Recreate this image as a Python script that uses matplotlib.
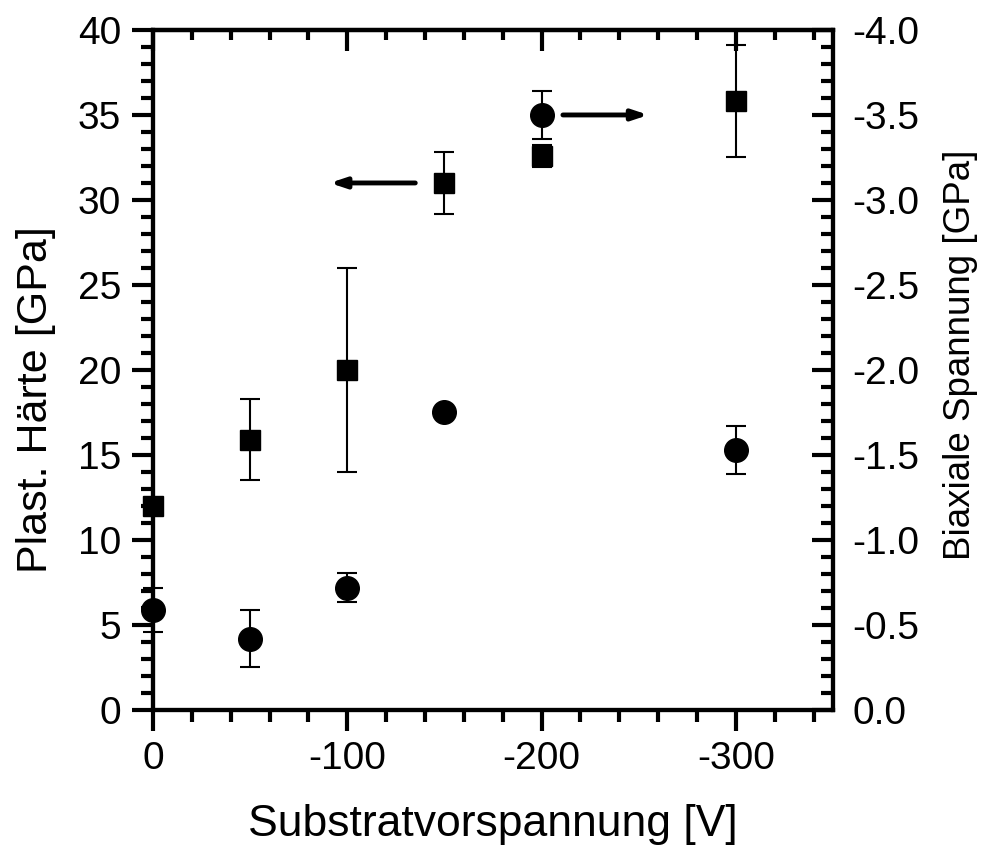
import matplotlib
matplotlib.use('Agg')
import matplotlib.pyplot as plt
from matplotlib.ticker import MultipleLocator, FormatStrFormatter

plt.rcParams['font.family'] = ['Liberation Sans', 'DejaVu Sans']
plt.rcParams['axes.unicode_minus'] = False

# Substratvorspannung [V]
bias_h = [0, -50, -100, -150, -200, -300]
haerte = [12.0, 15.9, 20.0, 31.0, 32.6, 35.8]
haerte_err = [0.0, 2.4, 6.0, 1.8, 0.65, 3.3]

bias_s = [0, -50, -100, -150, -200, -300]
spannung = [-0.59, -0.42, -0.72, -1.75, -3.50, -1.53]
spannung_err = [0.13, 0.17, 0.085, 0.0, 0.14, 0.14]

fig = plt.figure(figsize=(9.84, 8.56), dpi=100)
ax = fig.add_axes([0.1555, 0.1706, 0.691, 0.7944])
ax2 = ax.twinx()

ax.errorbar(bias_h, haerte, yerr=haerte_err, fmt='s', color='black', ms=15,
            ecolor='black', elinewidth=1.5, capsize=7.5, capthick=1.5, clip_on=False, zorder=5)
ax2.errorbar(bias_s, spannung, yerr=spannung_err, fmt='o', color='black', ms=17,
             ecolor='black', elinewidth=1.5, capsize=7.5, capthick=1.5, clip_on=False, zorder=5)

ax.set_xlim(0, -350)
ax.set_ylim(0, 40)
ax2.set_ylim(0, -4)

ax.xaxis.set_major_locator(MultipleLocator(100))
ax.xaxis.set_minor_locator(MultipleLocator(20))
ax.yaxis.set_major_locator(MultipleLocator(5))
ax.yaxis.set_minor_locator(MultipleLocator(1))
ax2.yaxis.set_major_locator(MultipleLocator(0.5))
ax2.yaxis.set_minor_locator(MultipleLocator(0.1))
ax2.yaxis.set_major_formatter(FormatStrFormatter('%.1f'))

for a in (ax, ax2):
    for s in a.spines.values():
        s.set_linewidth(3)

ax.tick_params(axis='x', which='both', direction='out', bottom=True, top=False, labelsize=28, width=3, pad=7)
ax.tick_params(axis='x', which='major', length=15)
ax.tick_params(axis='x', which='minor', length=8.5)
ax.tick_params(axis='y', which='both', direction='out', left=True, right=False, labelsize=28, width=3, pad=8)
ax.tick_params(axis='y', which='major', length=15)
ax.tick_params(axis='y', which='minor', length=8.5)
ax2.tick_params(axis='y', which='both', direction='in', right=True, labelsize=28, width=3, pad=14)
ax2.tick_params(axis='y', which='major', length=15)
ax2.tick_params(axis='y', which='minor', length=8.5)

# inward ticks along the top spine
axt = ax.secondary_xaxis('top')
axt.xaxis.set_major_locator(MultipleLocator(100))
axt.xaxis.set_minor_locator(MultipleLocator(20))
axt.tick_params(axis='x', which='both', direction='in', width=3, labeltop=False)
axt.tick_params(axis='x', which='major', length=15)
axt.tick_params(axis='x', which='minor', length=7.5)
axt.spines['top'].set_linewidth(3)

ax.set_xlabel('Substratvorspannung [V]', fontsize=32, labelpad=20)
ax.set_ylabel('Plast. Härte [GPa]', fontsize=31)
ax2.set_ylabel('Biaxiale Spannung [GPa]', fontsize=26.5)
ax.yaxis.set_label_coords(-0.142, 0.456)
ax2.yaxis.set_label_coords(1.162, 0.522)

# Pfeile: welche Achse gilt
ax.annotate('', xy=(-91, 31), xytext=(-135, 31),
            arrowprops=dict(arrowstyle='-|>,head_length=0.9,head_width=0.3', lw=3.5,
                            color='black', shrinkA=0, shrinkB=0, capstyle='round'))
ax2.annotate('', xy=(-255, -3.5), xytext=(-211, -3.5),
             arrowprops=dict(arrowstyle='-|>,head_length=0.9,head_width=0.3', lw=3.5,
                             color='black', shrinkA=0, shrinkB=0, capstyle='round'))

fig.savefig('out.png', dpi=100)
